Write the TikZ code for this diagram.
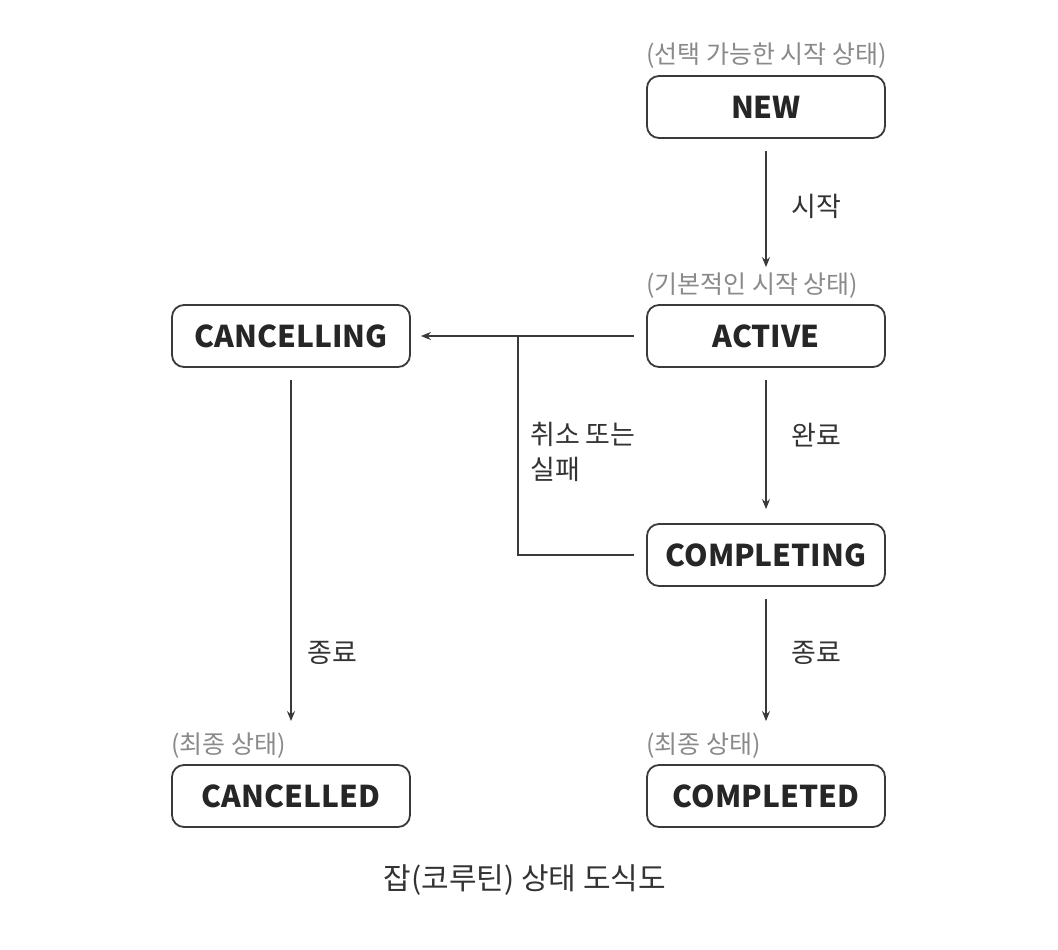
\documentclass[tikz,border=0pt]{standalone}
\usepackage{fontspec}
\setmainfont{Noto Sans CJK KR}
\usetikzlibrary{arrows.meta}

\definecolor{linegray}{HTML}{3A3A3A}
\definecolor{notegray}{HTML}{8A8A8A}

\tikzset{
  statebox/.style={draw=linegray, line width=1.8pt, rounded corners=12pt,
    minimum width=238pt, minimum height=62pt, text=black!85,
    font=\fontsize{30}{34}\selectfont\bfseries},
  note/.style={text=notegray, anchor=south west, inner sep=0pt,
    font=\fontsize{25}{29}\selectfont},
  trans/.style={->, linegray, line width=1.3pt},
  translabel/.style={text=black!80, font=\fontsize{27}{35}\selectfont}
}

\begin{document}
\begin{tikzpicture}[>={Stealth[length=10pt,width=8pt]}, x=1pt, y=-1pt]
  \useasboundingbox[fill=white] (0,0) rectangle (1058,950);

  % Các trạng thái
  \node[statebox] (NEW) at (766,107) {NEW};
  \node[statebox] (ACTIVE) at (766,336) {ACTIVE};
  \node[statebox] (CANCELLING) at (291,336) {CANCELLING};
  \node[statebox] (COMPLETING) at (766,555) {COMPLETING};
  \node[statebox] (CANCELLED) at (291,796) {CANCELLED};
  \node[statebox] (COMPLETED) at (766,796) {COMPLETED};

  % Chú thích trên các hộp
  \node[note] (noteNEW) at ([yshift=6pt]NEW.north west) {(선택 가능한 시작 상태)};
  \node[note] (noteACTIVE) at ([yshift=6pt]ACTIVE.north west) {(기본적인 시작 상태)};
  \node[note] (noteCANCELLED) at ([yshift=6pt]CANCELLED.north west) {(최종 상태)};
  \node[note] (noteCOMPLETED) at ([yshift=6pt]COMPLETED.north west) {(최종 상태)};

  % Chuyển trạng thái
  \draw[trans, shorten <=12pt, shorten >=37pt] (NEW) -- (ACTIVE)
    node[pos=0.41, right=22pt, translabel] {시작};
  \draw[trans, shorten <=12pt, shorten >=14pt] (ACTIVE) -- (COMPLETING)
    node[pos=0.43, right=22pt, translabel] {완료};
  \draw[trans, shorten <=12pt, shorten >=43pt] (COMPLETING) -- (COMPLETED)
    node[pos=0.37, right=22pt, translabel] {종료};
  \draw[trans, shorten <=12pt, shorten >=43pt] (CANCELLING) -- (CANCELLED)
    node[pos=0.72, right=13pt, translabel] {종료};

  % Hủy hoặc thất bại
  \coordinate (jn) at (518,336);
  \draw[trans, shorten <=12pt, shorten >=10pt] (ACTIVE) -- (CANCELLING);
  \draw[linegray, line width=1.3pt, shorten <=12pt] (COMPLETING.west) -| (jn);
  \node[translabel, anchor=north west, align=left, inner sep=0pt] (cancelnote) at (530,422)
    {취소 또는\\실패};

  % Tiêu đề
  \node[text=black!80, font=\fontsize{30}{34}\selectfont] (caption) at (525,880)
    {잡(코루틴) 상태 도식도};
\end{tikzpicture}
\end{document}
